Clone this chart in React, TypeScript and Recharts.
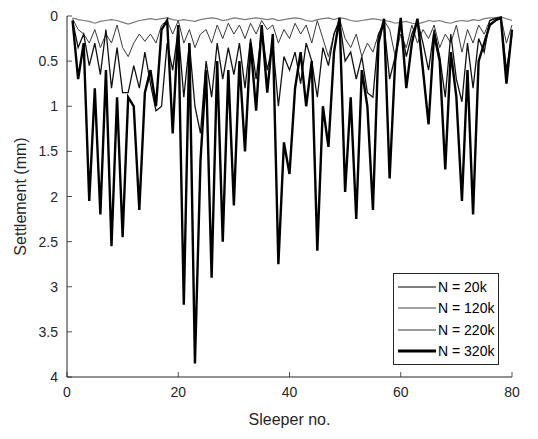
import React from 'react';
import { LineChart, Line, XAxis, YAxis } from 'recharts';

const sleeperNo: number[] = [
  1, 2, 3, 4, 5, 6, 7, 8, 9, 10, 11, 12, 13, 14, 15, 16, 17, 18, 19, 20,
  21, 22, 23, 24, 25, 26, 27, 28, 29, 30, 31, 32, 33, 34, 35, 36, 37, 38, 39, 40,
  41, 42, 43, 44, 45, 46, 47, 48, 49, 50, 51, 52, 53, 54, 55, 56, 57, 58, 59, 60,
  61, 62, 63, 64, 65, 66, 67, 68, 69, 70, 71, 72, 73, 74, 75, 76, 77, 78, 79, 80,
];

const n20k: number[] = [
  0.02, 0.04, 0.05, 0.06, 0.08, 0.06, 0.05, 0.04, 0.05, 0.07,
  0.09, 0.07, 0.05, 0.04, 0.03, 0.04, 0.03, 0.02, 0.04, 0.05,
  0.04, 0.05, 0.06, 0.04, 0.03, 0.02, 0.03, 0.05, 0.04, 0.02,
  0.03, 0.04, 0.03, 0.02, 0.03, 0.04, 0.03, 0.05, 0.04, 0.03,
  0.02, 0.03, 0.05, 0.06, 0.04, 0.03, 0.02, 0.04, 0.02, 0.03,
  0.05, 0.06, 0.05, 0.04, 0.03, 0.04, 0.05, 0.06, 0.08, 0.07,
  0.06, 0.08, 0.09, 0.07, 0.05, 0.06, 0.05, 0.07, 0.08, 0.06,
  0.05, 0.06, 0.04, 0.05, 0.03, 0.02, 0.02, 0.01, 0.03, 0.05,
];

const n120k: number[] = [
  0.03, 0.15, 0.2, 0.3, 0.15, 0.35, 0.2, 0.3, 0.1, 0.35,
  0.45, 0.3, 0.2, 0.28, 0.2, 0.3, 0.1, 0.05, 0.2, 0.05,
  0.3, 0.15, 0.35, 0.2, 0.15, 0.3, 0.1, 0.25, 0.08, 0.2,
  0.1, 0.25, 0.08, 0.2, 0.05, 0.15, 0.1, 0.3, 0.15, 0.25,
  0.08, 0.2, 0.1, 0.3, 0.05, 0.25, 0.45, 0.2, 0.03, 0.25,
  0.35, 0.2, 0.45, 0.3, 0.4, 0.2, 0.05, 0.15, 0.45, 0.2,
  0.35, 0.1, 0.3, 0.15, 0.25, 0.1, 0.35, 0.2, 0.3, 0.1,
  0.4, 0.15, 0.3, 0.1, 0.2, 0.05, 0.02, 0.01, 0.3, 0.1,
];

const n220k: number[] = [
  0.05, 0.35, 0.2, 0.55, 0.3, 0.65, 0.15, 0.8, 0.35, 0.85,
  0.85, 0.55, 0.8, 0.4, 0.75, 1.05, 1.0, 0.3, 0.6, 0.15,
  0.9, 0.3, 1.0, 1.3, 0.5, 0.9, 0.3, 0.7, 0.35, 0.65,
  0.3, 0.8, 0.25, 0.7, 0.15, 0.6, 0.3, 1.0, 0.45, 0.6,
  0.4, 0.75, 0.3, 0.5, 0.9, 0.35, 0.55, 0.2, 0.05, 0.5,
  0.4, 0.7, 0.45, 0.85, 0.9, 0.2, 0.1, 0.7, 0.45, 0.1,
  0.45, 0.2, 0.05, 0.3, 0.6, 0.15, 0.45, 0.9, 0.2, 0.7,
  0.95, 0.3, 0.8, 0.25, 0.4, 0.05, 0.03, 0.02, 0.6, 0.2,
];

const n320k: number[] = [
  0.05, 0.7, 0.3, 2.05, 0.8, 2.2, 0.6, 2.55, 0.9, 2.45,
  0.9, 1.0, 2.15, 0.85, 0.6, 1.0, 0.15, 0.05, 1.3, 0.1,
  3.2, 0.3, 3.85, 1.6, 0.6, 2.9, 0.5, 2.5, 0.6, 2.1,
  0.5, 1.5, 0.3, 1.05, 0.1, 0.85, 0.2, 2.75, 1.4, 1.75,
  0.8, 0.4, 1.0, 0.5, 2.6, 1.0, 1.45, 0.4, 0.02, 1.95,
  0.9, 2.25, 0.6, 1.0, 2.15, 0.3, 0.03, 1.8, 0.5, 0.02,
  0.8, 0.3, 0.03, 0.6, 1.2, 0.2, 0.5, 1.7, 0.4, 0.9,
  2.05, 0.6, 2.2, 0.5, 0.3, 0.1, 0.05, 0.02, 0.75, 0.15,
];

const seriesNames: string[] = ['N = 20k', 'N = 120k', 'N = 220k', 'N = 320k'];
const xTicks: number[] = [0, 20, 40, 60, 80];
const yTicks: number[] = [0, 0.5, 1, 1.5, 2, 2.5, 3, 3.5, 4];

const data = sleeperNo.map((s, i) => ({
  s,
  a: n20k[i],
  b: n120k[i],
  c: n220k[i],
  d: n320k[i],
}));

const series = [
  { key: 'a', name: seriesNames[0], color: '#7a7a7a', width: 1.2, legendColor: '#000', legendWidth: 1 },
  { key: 'b', name: seriesNames[1], color: '#3a3a3a', width: 1, legendColor: '#444', legendWidth: 1 },
  { key: 'c', name: seriesNames[2], color: '#111', width: 1.3, legendColor: '#777', legendWidth: 1.3 },
  { key: 'd', name: seriesNames[3], color: '#000', width: 2.4, legendColor: '#000', legendWidth: 3 },
];

const FONT = 'Liberation Sans, Arial, Helvetica, sans-serif';
const AXIS = '#262626';

const fmt = (v: number) => String(v);

const YTick = (props: any) => {
  const { x, y, payload } = props;
  return (
    <g>
      <line x1={x + 9} y1={y} x2={x + 14} y2={y} stroke={AXIS} strokeWidth={0.8} />
      <text x={x} y={y} dy={5} textAnchor="end" fontSize={14} fontFamily={FONT} fill={AXIS}>
        {fmt(payload.value)}
      </text>
    </g>
  );
};

const XTick = (props: any) => {
  const { x, y, payload } = props;
  return (
    <g>
      <line x1={x} y1={y - 10} x2={x} y2={y - 15} stroke={AXIS} strokeWidth={0.8} />
      <text x={x} y={y} dy={10} textAnchor="middle" fontSize={14} fontFamily={FONT} fill={AXIS}>
        {fmt(payload.value)}
      </text>
    </g>
  );
};

export default function App() {
  return (
    <div style={{ width: 522, height: 425, position: 'relative' }}>
      <LineChart
        width={522}
        height={425}
        data={data}
        margin={{ top: 8, right: 18, bottom: 0, left: 0 }}
      >
        <XAxis
          dataKey="s"
          type="number"
          domain={[0, 80]}
          ticks={xTicks}
          interval={0}
          height={56}
          tickSize={10}
          tickMargin={0}
          tickLine={false}
          stroke={AXIS}
          tick={<XTick />}
          label={{
            content: () => (
              <text x={281.5} y={417} textAnchor="middle" fontSize={16} fontFamily={FONT} fill={AXIS}>
                Sleeper no.
              </text>
            ),
          }}
        />
        <YAxis
          type="number"
          domain={[0, 4]}
          reversed
          ticks={yTicks}
          interval={0}
          width={59}
          tickSize={9}
          tickMargin={0}
          tickLine={false}
          stroke={AXIS}
          tick={<YTick />}
          label={{
            content: () => (
              <text
                x={14}
                y={188.5}
                transform="rotate(-90 14 188.5)"
                textAnchor="middle"
                dominantBaseline="middle"
                fontSize={16}
                fontFamily={FONT}
                fill={AXIS}
              >
                Settlement (mm)
              </text>
            ),
          }}
        />
        {series.map((s) => (
          <Line
            key={s.key}
            name={s.name}
            dataKey={s.key}
            stroke={s.color}
            strokeWidth={s.width}
            dot={false}
            isAnimationActive={false}
          />
        ))}
      </LineChart>
      <div
        style={{
          position: 'absolute',
          left: 385,
          top: 265,
          border: '1px solid #262626',
          background: '#fff',
          padding: '2px 4px 2px 4px',
          fontFamily: FONT,
          fontSize: 14,
          color: '#000',
        }}
      >
        {series.map((s) => (
          <div key={s.key} style={{ display: 'flex', alignItems: 'center', height: 21.5 }}>
            <svg width={38} height={8} style={{ marginRight: 2 }}>
              <line x1={0} y1={4} x2={38} y2={4} stroke={s.legendColor} strokeWidth={s.legendWidth} />
            </svg>
            <span>{s.name}</span>
          </div>
        ))}
      </div>
    </div>
  );
}
